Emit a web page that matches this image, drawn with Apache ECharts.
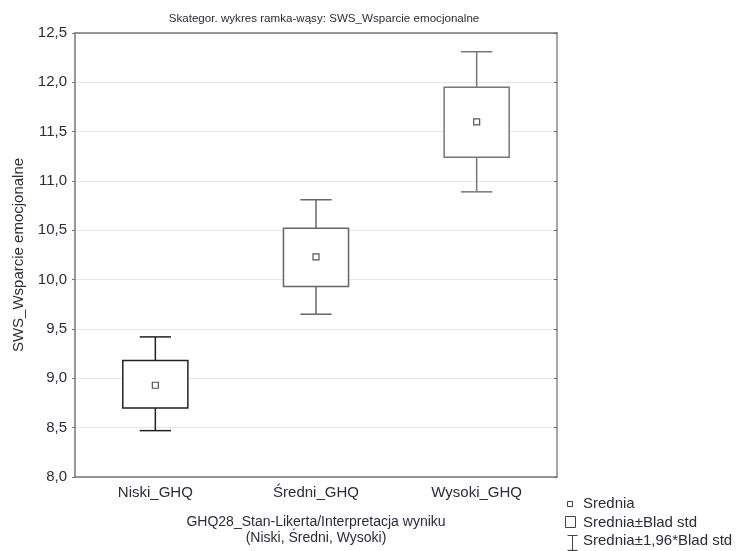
<!DOCTYPE html>
<html>
<head>
<meta charset="utf-8">
<title>Skategor. wykres ramka-wąsy</title>
<script src="https://cdn.jsdelivr.net/npm/echarts@6/dist/echarts.min.js"></script>
<style>
  html, body { margin: 0; padding: 0; background: #fff; }
  #chart { width: 739px; height: 551px; }
</style>
</head>
<body>
<div id="chart"></div>
<script>
    // dane
    var categories = ['Niski_GHQ', 'Średni_GHQ', 'Wysoki_GHQ'];
    var means = [8.93, 10.23, 11.60];
    var seLow = [8.70, 9.93, 11.24];
    var seHigh = [9.18, 10.52, 11.95];
    var ciLow = [8.47, 9.65, 10.89];
    var ciHigh = [9.42, 10.81, 12.31];
    var strokes = ['#222', '#666', '#777'];

    var fontFam = '"Liberation Sans", Arial, sans-serif';
    var txt = '#2b2b3a';

    var boxData = [];
    for (var i = 0; i < categories.length; i++) {
        boxData.push([i, ciLow[i], seLow[i], means[i], seHigh[i], ciHigh[i]]);
    }

    function renderBox(params, api) {
        var x = api.value(0);
        var pLow = api.coord([x, api.value(1)]);
        var pBoxLow = api.coord([x, api.value(2)]);
        var pMean = api.coord([x, api.value(3)]);
        var pBoxHigh = api.coord([x, api.value(4)]);
        var pHigh = api.coord([x, api.value(5)]);
        var band = api.size([1, 0])[0];
        var bw = band * 0.405;
        var cw = band * 0.195;
        var cx = pMean[0];
        var st = { stroke: strokes[params.dataIndex], lineWidth: 1.5, fill: null };
        return {
            type: 'group',
            children: [
                { type: 'line', shape: { x1: cx, y1: pHigh[1], x2: cx, y2: pBoxHigh[1] }, style: st },
                { type: 'line', shape: { x1: cx - cw / 2, y1: pHigh[1], x2: cx + cw / 2, y2: pHigh[1] }, style: st },
                { type: 'line', shape: { x1: cx, y1: pLow[1], x2: cx, y2: pBoxLow[1] }, style: st },
                { type: 'line', shape: { x1: cx - cw / 2, y1: pLow[1], x2: cx + cw / 2, y2: pLow[1] }, style: st },
                { type: 'rect', shape: { x: cx - bw / 2, y: pBoxHigh[1], width: bw, height: pBoxLow[1] - pBoxHigh[1] },
                  style: { stroke: strokes[params.dataIndex], lineWidth: 1.5, fill: '#fff' } },
                { type: 'rect', shape: { x: cx - 3, y: pMean[1] - 3, width: 6, height: 6 },
                  style: { stroke: '#555', lineWidth: 1.2, fill: '#fff' } }
            ]
        };
    }

    var myChart = echarts.init(document.getElementById('chart'));
    var option = {
        animation: false,
        title: {
            text: 'Skategor. wykres ramka-wąsy: SWS_Wsparcie emocjonalne',
            left: 319, top: 8, textAlign: 'center',
            textStyle: { fontFamily: fontFam, fontSize: 11.6, fontWeight: 'normal', color: txt }
        },
        grid: { left: 75, right: 182, top: 33, bottom: 74 },
        xAxis: [{
            type: 'category',
            data: categories,
            position: 'bottom',
            axisLine: { lineStyle: { color: '#777', width: 1.5 } },
            axisTick: { inside: true, alignWithLabel: true, length: 4, lineStyle: { color: '#333' } },
            axisLabel: { fontFamily: fontFam, fontSize: 15, color: txt, margin: 8 },
            name: 'GHQ28_Stan-Likerta/Interpretacja wyniku\n(Niski, Średni, Wysoki)',
            nameLocation: 'middle',
            nameGap: 37,
            nameTextStyle: { fontFamily: fontFam, fontSize: 14, color: txt, lineHeight: 16, verticalAlign: 'top' }
        }, {
            type: 'category',
            data: categories,
            position: 'top',
            axisLine: { lineStyle: { color: '#777', width: 1.5 } },
            axisTick: { inside: true, alignWithLabel: true, length: 4, lineStyle: { color: '#333' } },
            axisLabel: { show: false }
        }],
        yAxis: [{
            type: 'value',
            min: 8, max: 12.5, interval: 0.5,
            axisLine: { show: true, lineStyle: { color: '#777', width: 1.5 } },
            axisTick: { show: true, length: 3, lineStyle: { color: '#777' } },
            axisLabel: {
                fontFamily: fontFam, fontSize: 15, color: txt, margin: 8,
                formatter: function (v) { return v.toFixed(1).replace('.', ','); }
            },
            splitLine: { lineStyle: { color: '#e8e8e8', width: 1 } },
            name: 'SWS_Wsparcie emocjonalne',
            nameLocation: 'middle',
            nameGap: 49,
            nameTextStyle: { fontFamily: fontFam, fontSize: 15, color: txt }
        }, {
            type: 'value',
            position: 'right',
            min: 8, max: 12.5, interval: 0.5,
            axisLine: { show: true, lineStyle: { color: '#888', width: 1.5 } },
            axisTick: { show: true, inside: true, length: 3, lineStyle: { color: '#666' } },
            axisLabel: { show: false },
            splitLine: { show: false }
        }],
        series: [{
            type: 'custom',
            renderItem: renderBox,
            data: boxData,
            encode: { x: 0, y: [1, 2, 3, 4, 5] },
            z: 5
        }],
        graphic: [
            { type: 'rect', left: 567, top: 501, shape: { width: 5, height: 5 }, style: { stroke: '#444', fill: '#fff', lineWidth: 1 } },
            { type: 'text', left: 583, top: 496, style: { text: 'Srednia', font: '15px ' + fontFam, fill: txt } },
            { type: 'rect', left: 565, top: 516, shape: { width: 10, height: 11 }, style: { stroke: '#444', fill: '#fff', lineWidth: 1 } },
            { type: 'text', left: 583, top: 515, style: { text: 'Srednia±Blad std', font: '15px ' + fontFam, fill: txt } },
            { type: 'group', left: 565, top: 533, children: [
                { type: 'line', shape: { x1: 0, y1: 0, x2: 10, y2: 0 }, style: { stroke: '#444', lineWidth: 1 } },
                { type: 'line', shape: { x1: 5, y1: 0, x2: 5, y2: 15 }, style: { stroke: '#444', lineWidth: 1 } },
                { type: 'line', shape: { x1: 0, y1: 15, x2: 10, y2: 15 }, style: { stroke: '#444', lineWidth: 1.3 } }
            ] },
            { type: 'text', left: 583, top: 533, style: { text: 'Srednia±1,96*Blad std', font: '15px ' + fontFam, fill: txt } }
        ]
    };
    myChart.setOption(option);
</script>
</body>
</html>
